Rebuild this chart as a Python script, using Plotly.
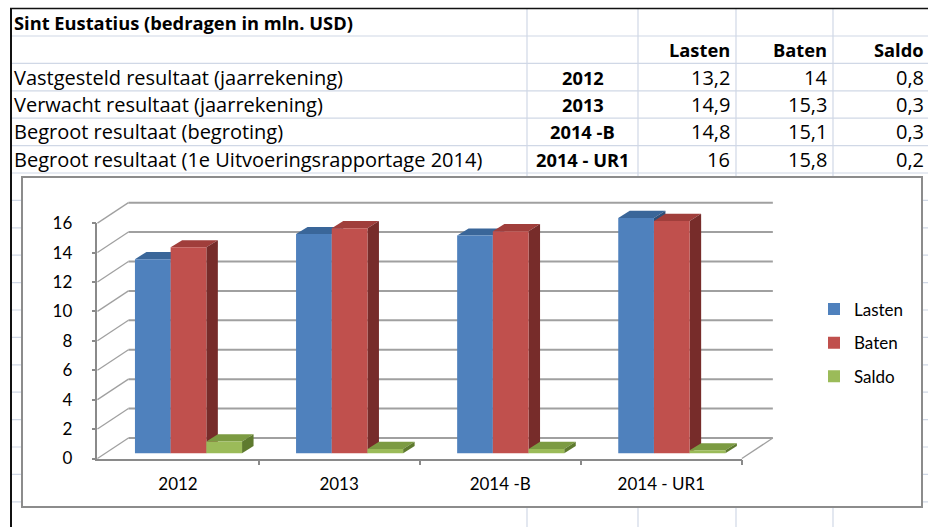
import plotly.graph_objects as go

# ---------------- data ----------------
title = "Sint Eustatius (bedragen in mln. USD)"
row_labels = [
    "Vastgesteld resultaat (jaarrekening)",
    "Verwacht resultaat (jaarrekening)",
    "Begroot resultaat (begroting)",
    "Begroot resultaat (1e Uitvoeringsrapportage 2014)",
]
categories = ["2012", "2013", "2014 -B", "2014 - UR1"]
series_names = ["Lasten", "Baten", "Saldo"]
lasten = [13.2, 14.9, 14.8, 16]
baten = [14, 15.3, 15.1, 15.8]
saldo = [0.8, 0.3, 0.3, 0.2]
y_ticks = [0, 2, 4, 6, 8, 10, 12, 14, 16]

series_values = [lasten, baten, saldo]

# ---------------- styling / geometry (pixels) ----------------
W, H = 928, 527
FONT = "Lato"
TFONT = "Open Sans"
front_cols = ["#4F81BD", "#C0504D", "#9BBB59"]
top_cols = ["#3A6699", "#A03E3B", "#7C9B42"]
side_cols = ["#2E507A", "#772C2A", "#5E7A2E"]

X0, CAT = 188.5, 161.1      # bar plane: x=0 centre px, px per category
Y0, UNIT = 453.3, 14.71     # bar plane: y=0 px (from top), px per unit
FX, FY = -10.5, 5.2         # front plane offset from bar plane (px, +down)
BX, BY = 20.5, -15.3        # back wall offset from bar plane
DX, DY = 11.5, -7.2         # bar depth offset
BW = 0.2216                 # bar width in category units

def ux(px):
    return px / CAT

def uy(py):
    return -py / UNIT

def PX(x):
    return x / W

def PY(y):
    return 1 - y / H

fig = go.Figure()

# bars (front faces)
n = len(series_names)
for k, (name, vals) in enumerate(zip(series_names, series_values)):
    fig.add_trace(go.Bar(
        x=list(range(len(categories))), y=vals, name=name,
        width=BW, offset=-n / 2 * BW + k * BW,
        marker=dict(color=front_cols[k], line=dict(width=0)),
        xaxis="x", yaxis="y", legendgroup=name,
        hovertext=categories,
    ))

# dummy trace for the front axes
fig.add_trace(go.Scatter(x=[None], y=[None], xaxis="x2", yaxis="y2",
                         showlegend=False, hoverinfo="skip"))

shapes = []
grid_col = "#D0D8E6"
# spreadsheet horizontal grid lines
row_h = 27.4
y = 36.0
while y < H:
    shapes.append(dict(type="line", xref="paper", yref="paper",
                       x0=PX(10), x1=PX(W), y0=PY(y), y1=PY(y),
                       line=dict(color=grid_col, width=1.2), layer="below"))
    y += row_h
for xv in [527, 638, 736, 833]:
    shapes.append(dict(type="line", xref="paper", yref="paper",
                       x0=PX(xv), x1=PX(xv), y0=PY(8.5), y1=PY(H),
                       line=dict(color=grid_col, width=1.2), layer="below"))
# sheet outer border
shapes.append(dict(type="line", xref="paper", yref="paper",
                   x0=PX(10), x1=PX(W), y0=PY(8.5), y1=PY(8.5),
                   line=dict(color="#111", width=1.6), layer="below"))
shapes.append(dict(type="line", xref="paper", yref="paper",
                   x0=PX(11), x1=PX(11), y0=PY(8.5), y1=PY(H),
                   line=dict(color="#111", width=2), layer="below"))
# chart box
shapes.append(dict(type="rect", xref="paper", yref="paper",
                   x0=PX(22), x1=PX(922), y0=PY(177), y1=PY(507),
                   fillcolor="white", line=dict(color="#8C8C8C", width=2),
                   layer="below"))

ncat = len(categories)
xl, xr = -0.5, ncat - 0.5
bx, by = ux(BX), uy(BY)
fx, fy = ux(FX), uy(FY)
wall_col = "#A0A0A0"
for t in y_ticks:
    shapes.append(dict(type="line", xref="x", yref="y",
                       x0=xl + bx, x1=xr + bx, y0=t + by, y1=t + by,
                       line=dict(color=wall_col, width=2), layer="below"))
    shapes.append(dict(type="line", xref="x", yref="y",
                       x0=xl + fx, x1=xl + bx, y0=t + fy, y1=t + by,
                       line=dict(color=wall_col, width=1.3), layer="below"))
shapes.append(dict(type="line", xref="x", yref="y",
                   x0=xr + fx, x1=xr + bx, y0=fy, y1=by,
                   line=dict(color=wall_col, width=1.3), layer="below"))

# 3D faces of the bars
ddx, ddy = ux(DX), uy(DY)
for i in range(ncat):
    for k in range(n):
        v = series_values[k][i]
        left = i - n / 2 * BW + k * BW
        right = left + BW
        top = (f"M{left},{v} L{right},{v} L{right + ddx},{v + ddy} "
               f"L{left + ddx},{v + ddy} Z")
        side = (f"M{right},0 L{right + ddx},{ddy} L{right + ddx},{v + ddy} "
                f"L{right},{v} Z")
        shapes.append(dict(type="path", xref="x", yref="y", path=top,
                           fillcolor=top_cols[k], line=dict(width=0),
                           layer="below"))
        shapes.append(dict(type="path", xref="x", yref="y", path=side,
                           fillcolor=side_cols[k], line=dict(width=0),
                           layer="below"))

# ---------------- table text ----------------
ann = []
rfs, bfs = 20, 18.3
def tfont(size):
    return dict(family=TFONT, size=size, color="black")

ann.append(dict(text=f"<b>{title}</b>", x=PX(12), y=PY(22), xref="paper",
                yref="paper", xanchor="left", yanchor="middle",
                showarrow=False, font=tfont(bfs)))
col_right = [732, 829, 926]
for j, name in enumerate(series_names):
    ann.append(dict(text=f"<b>{name}</b>", x=PX(col_right[j]), y=PY(50),
                    xref="paper", yref="paper", xanchor="right",
                    yanchor="middle", showarrow=False, font=tfont(bfs)))
row_c = [77.3, 104.5, 131.7, 159.2]
for i, lab in enumerate(row_labels):
    ann.append(dict(text=lab, x=PX(12), y=PY(row_c[i]), xref="paper",
                    yref="paper", xanchor="left", yanchor="middle",
                    showarrow=False, font=tfont(rfs)))
    ann.append(dict(text=f"<b>{categories[i]}</b>", x=PX(582.5), y=PY(row_c[i]),
                    xref="paper", yref="paper", xanchor="center",
                    yanchor="middle", showarrow=False, font=tfont(bfs)))
    for j in range(n):
        val = f"{series_values[j][i]:g}".replace(".", ",")
        ann.append(dict(text=val, x=PX(col_right[j]), y=PY(row_c[i]),
                        xref="paper", yref="paper", xanchor="right",
                        yanchor="middle", showarrow=False, font=tfont(rfs)))

# ---------------- layout ----------------
front_bottom = Y0 + FY
front_top = front_bottom - max(y_ticks) * UNIT
front_left = X0 + xl * CAT + FX
front_right = X0 + xr * CAT + FX
axis_col = "#8A8A8A"

fig.update_layout(
    width=W, height=H,
    margin=dict(l=0, r=0, t=0, b=0, autoexpand=False),
    paper_bgcolor="white", plot_bgcolor="rgba(0,0,0,0)",
    barmode="overlay",
    shapes=shapes, annotations=ann,
    font=dict(family=FONT, color="black"),
    xaxis=dict(domain=[0, 1], range=[(0 - X0) / CAT, (W - X0) / CAT],
               visible=False, fixedrange=True, automargin=False),
    yaxis=dict(domain=[0, 1], range=[(Y0 - H) / UNIT, Y0 / UNIT],
               visible=False, fixedrange=True, automargin=False),
    xaxis2=dict(domain=[PX(front_left), PX(front_right)], anchor="y2",
                range=[xl, xr], tickvals=list(range(ncat)), ticktext=categories,
                ticks="", showline=True, linecolor=axis_col, linewidth=1.5,
                showgrid=False, zeroline=False, automargin=False,
                fixedrange=True,
                tickfont=dict(family=FONT, size=17, color="black"),
                ticklabelstandoff=9,
                minor=dict(tickvals=[c + 0.5 for c in range(ncat)],
                           ticks="outside", ticklen=5, tickcolor=axis_col,
                           tickwidth=1.5, showgrid=False)),
    yaxis2=dict(domain=[PY(front_bottom), PY(front_top)], anchor="x2",
                range=[0, max(y_ticks)], tickvals=y_ticks, ticks="outside",
                ticklen=4, tickcolor=axis_col, tickwidth=1.5,
                showline=True, linecolor=axis_col, linewidth=1.5,
                showgrid=False, zeroline=False, automargin=False,
                fixedrange=True,
                tickfont=dict(family=FONT, size=17, color="black"),
                ticklabelstandoff=16),
    legend=dict(x=PX(814), y=PY(343), xanchor="left", yanchor="middle",
                font=dict(family=FONT, size=17, color="black"),
                tracegroupgap=8.5, bgcolor="rgba(0,0,0,0)"),
    showlegend=True,
)

fig.write_html("out.html", config={"displayModeBar": False},
               post_script="document.body.style.margin='0px';")
